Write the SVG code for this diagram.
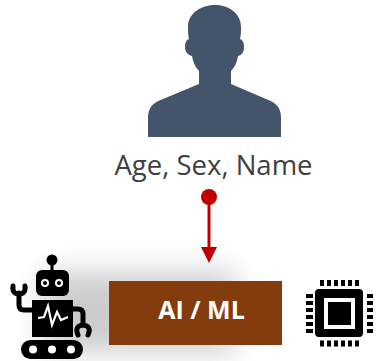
<svg xmlns="http://www.w3.org/2000/svg" width="378" height="361" viewBox="0 0 378 361">
<style>
.k{fill:#000}.w{fill:#fff}.ks{fill:none;stroke:#000;stroke-linecap:round;stroke-linejoin:round}
.t{font-family:"Open Sans","Noto Sans",sans-serif;text-anchor:middle}
</style>
<defs>
<filter id="b" x="-50%" y="-50%" width="200%" height="200%"><feGaussianBlur stdDeviation="15"/></filter>
<marker id="dot" markerUnits="userSpaceOnUse" markerWidth="18" markerHeight="18" refX="9" refY="9"><circle cx="9" cy="9" r="8" fill="#c00000"/></marker>
<marker id="head" markerUnits="userSpaceOnUse" markerWidth="16" markerHeight="16" refX="0" refY="8" orient="auto"><path d="M0 0L16 8L0 16Z" fill="#c00000"/></marker>
</defs>
<rect width="378" height="361" fill="#fff"/>
<rect x="45" y="272" width="190" height="80" fill="#000" opacity=".2" filter="url(#b)"/>
<g id="person"><path fill="#44546a" d="M215 5C203 5 188 12 188 27C188 31 188 35 189 39C186 40 185 43 185 47C185 52 188 55 192 56C193 62 195 67 199 71L199 84L163 99C152 103 148 108 148 118L148 137L281 137L281 118C281 108 277 103 266 99L231 84L231 71C235 67 237 62 238 56C242 55 244 52 244 47C244 43 243 40 240 39C241 35 241 31 241 27C241 12 227 5 215 5Z"/></g>
<g id="label"><text class="t" x="213.500" y="175" font-size="27.500" fill="#404040">Age, Sex, Name</text></g>
<g id="connectors"><line x1="209" y1="197" x2="209" y2="247" stroke="#c00000" stroke-width="3" marker-start="url(#dot)" marker-end="url(#head)"/></g>
<g id="ai-ml"><rect x="109" y="281" width="173" height="64" fill="#843c0c"/><text class="t" x="201.500" y="319" font-size="25" font-weight="700" fill="#fff">AI / ML</text></g>
<g id="robot">
<circle class="k" cx="52" cy="260" r="5.500"/><rect class="k" x="50.500" y="262" width="3" height="10"/>
<rect class="k" x="36" y="270" width="33" height="26" rx="6"/>
<circle class="w" cx="45" cy="283" r="4"/><circle class="k" cx="45" cy="283" r="2"/>
<circle class="w" cx="59" cy="283" r="4"/><circle class="k" cx="59" cy="283" r="2"/>
<rect class="k" x="32" y="300" width="41" height="37"/>
<polyline points="38,318 44,317 48,306 52,325 57,312 61,320 68,317" fill="none" stroke="#fff" stroke-width="2.200"/>
<path class="ks" stroke-width="5" d="M32 310L24 310Q19 310 19 305L19 293"/>
<path class="ks" stroke-width="5" d="M13 286Q12 294 19 294Q26 294 25 286"/>
<path class="ks" stroke-width="5" d="M73 309L78 309Q83 309 83 314L83 323"/>
<path class="ks" stroke-width="5" d="M78 335Q74 326 83 325Q92 326 88 335"/>
<rect class="k" x="21" y="340" width="62" height="19" rx="9.500"/>
<circle class="w" cx="33" cy="349.500" r="4"/><circle class="w" cx="52" cy="349.500" r="4"/><circle class="w" cx="71" cy="349.500" r="4"/>
</g>
<g id="chip">
<rect class="k" x="315" y="289" width="48" height="48" rx="4"/>
<rect class="w" x="324" y="298" width="31" height="31"/>
<rect class="k" x="328" y="302" width="23" height="23"/>
<path fill="none" stroke="#000" stroke-width="6" stroke-dasharray="4 3" d="M320 283H360M320 343.500H360"/>
<path fill="none" stroke="#000" stroke-width="4" d="M306 296H313M306 303H313M306 310H313M306 317H313M306 324H313M306 331H313M367 296H373M367 303H373M367 310H373M367 317H373M367 324H373M367 331H373"/>
</g>
</svg>
